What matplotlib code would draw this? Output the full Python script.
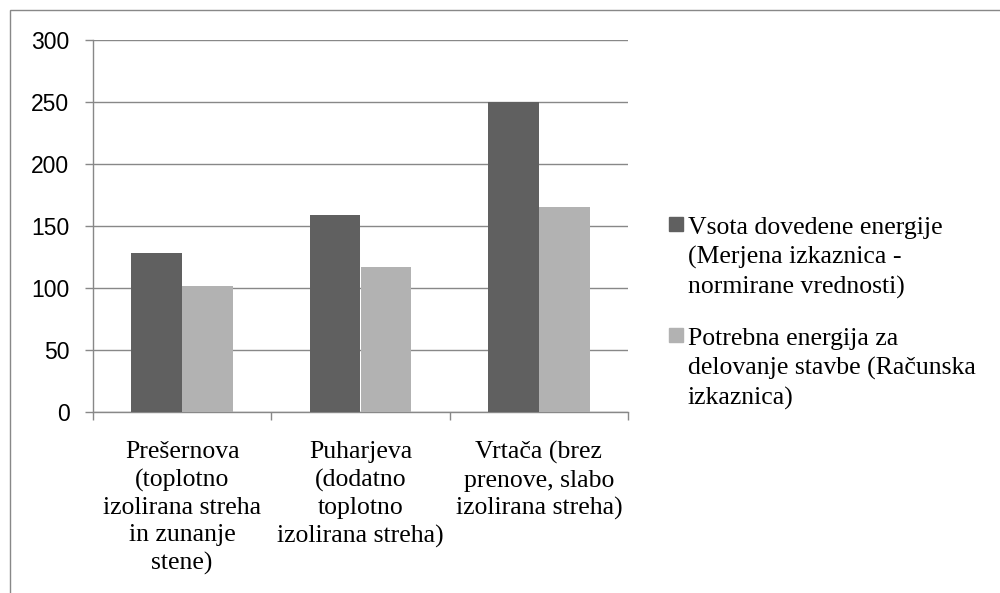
import matplotlib.pyplot as plt
from matplotlib.patches import Rectangle
from matplotlib.lines import Line2D

# Podatki
kategorije = [
    "Prešernova\n(toplotno\nizolirana streha\nin zunanje\nstene)",
    "Puharjeva\n(dodatno\ntoplotno\nizolirana streha)",
    "Vrtača (brez\nprenove, slabo\nizolirana streha)",
]
dovedena = [128, 159, 250]
potrebna = [102, 117, 165]
serije = [
    "Vsota dovedene energije\n(Merjena izkaznica -\nnormirane vrednosti)",
    "Potrebna energija za\ndelovanje stavbe (Računska\nizkaznica)",
]
barve = ["#606060", "#b2b2b2"]
y_ticks = [0, 50, 100, 150, 200, 250, 300]

SERIF = ["Liberation Serif", "DejaVu Serif"]
SANS = ["Liberation Sans", "DejaVu Sans"]
siva = "#888888"

fig = plt.figure(figsize=(10, 5.93), dpi=100)
ax = fig.add_axes([0.093, 1 - 412 / 593, 0.535, 372 / 593])

w = 1 / 3.5
x = list(range(len(kategorije)))
ax.bar([i - w / 2 for i in x], dovedena, width=w, color=barve[0], zorder=3)
ax.bar([i + w / 2 for i in x], potrebna, width=w, color=barve[1], zorder=3)

ax.set_xlim(-0.5, len(kategorije) - 0.5)
ax.set_ylim(0, 300)
ax.set_yticks(y_ticks)
ax.set_yticklabels([str(t) for t in y_ticks], fontfamily=SANS, fontsize=16.5)
ax.yaxis.grid(True, color=siva, linewidth=1.0, zorder=0)
ax.set_axisbelow(True)

ax.set_xticks(x)
ax.set_xticklabels(kategorije, fontfamily=SERIF, fontsize=18.5,
                   linespacing=1.31, multialignment="center")
ax.set_xticks([i - 0.5 for i in range(len(kategorije) + 1)], minor=True)
ax.tick_params(axis="x", which="major", length=0, pad=21)
ax.tick_params(axis="x", which="minor", length=6, color=siva, width=1.0)
ax.tick_params(axis="y", length=6, color=siva, width=1.0, pad=11)

for s in ["top", "right"]:
    ax.spines[s].set_visible(False)
for s in ["left", "bottom"]:
    ax.spines[s].set_color(siva)
    ax.spines[s].set_linewidth(1.0)

# Legenda (baseline = zadnja vrstica besedila)
leg_x = 0.688
prve_vrstice = [232, 343]
for ime, barva, yb in zip(serije, barve, prve_vrstice):
    n = ime.count("\n")
    fig.text(leg_x, 1 - (yb + 31 * n) / 593, ime, fontfamily=SERIF,
             fontsize=18.5, va="baseline", ha="left", linespacing=1.4)
    fig.add_artist(Line2D([0.676], [1 - (yb - 8) / 593], marker="s",
                          markersize=10, color=barva, linestyle="none"))

# Okvir grafikona
fig.add_artist(Rectangle((0.01, -0.5), 2, 0.5 + 1 - 10 / 593,
                         transform=fig.transFigure, fill=False,
                         edgecolor=siva, linewidth=1.0, clip_on=False))

fig.savefig("out.png", dpi=100, facecolor="white")
